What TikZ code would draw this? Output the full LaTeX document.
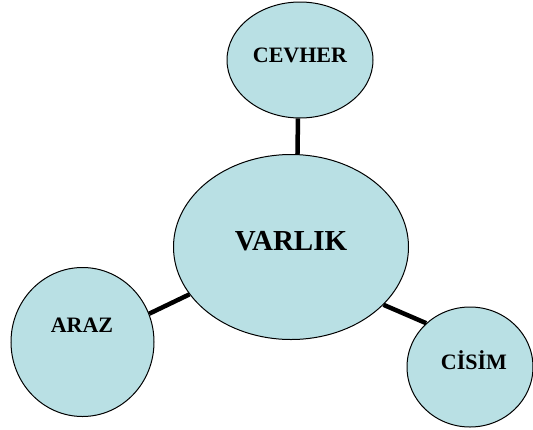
\documentclass[tikz,border=0pt]{standalone}
\usepackage{fontspec}
\setmainfont{Liberation Serif}
\usetikzlibrary{shapes.geometric}
\definecolor{fillc}{RGB}{185,224,228}
\begin{document}
\begin{tikzpicture}[x=1pt,y=-1pt,
  blob/.style={ellipse, draw=black, line width=1pt, fill=fillc, inner sep=0pt},
  lbl/.style={font=\bfseries\fontsize{22}{22}\selectfont, inner sep=0pt, anchor=base},
  biglbl/.style={font=\bfseries\fontsize{29}{29}\selectfont, inner sep=0pt, anchor=base},
  link/.style={line width=4.5pt, draw=black}]
\useasboundingbox (0,0) rectangle (533,429);
\node[blob, minimum width=235pt, minimum height=185pt] (varlik) at (291,247) {};
\node[blob, minimum width=146pt, minimum height=116pt] (cevher) at (300,60) {};
\node[blob, minimum width=143pt, minimum height=149pt] (araz) at (82.5,342) {};
\node[blob, minimum width=126pt, minimum height=120pt] (cisim) at (470,367) {};
\draw[link] (varlik.86.5) -- (cevher.-92.5);
\draw[link] (varlik.205.7) -- (araz.23.9);
\draw[link] (varlik.-32.5) -- (cisim.135.7);
\node[biglbl] (tvarlik) at (291,250) {VARLIK};
\node[lbl] (tcevher) at (300,62) {CEVHER};
\node[lbl] (taraz) at (82,332) {ARAZ};
\node[lbl] (tcisim) at (474,369) {CİSİM};
\end{tikzpicture}
\end{document}
